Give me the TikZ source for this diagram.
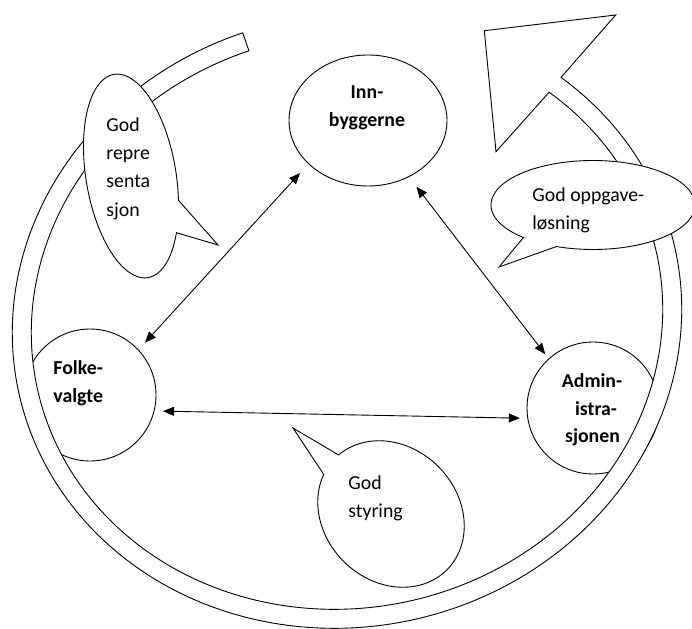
\documentclass[tikz,border=0pt]{standalone}
\usepackage{fontspec}
\setmainfont{Carlito}
\usetikzlibrary{arrows.meta,shapes.geometric}
\newcommand\lblsize{\fontsize{19.8}{28}\selectfont}
% #1 cx #2 cy #3 rx #4 ry #5 rotation #6 end angle (ta+360) #7 start angle (tb) #8 tip coordinate
\newcommand\speechbub[8]{%
  \draw[bubst] plot[domain=#7:#6,samples=160]
    ({#1+#3*cos(\x)*cos(#5)+#4*sin(\x)*sin(#5)},{#2-#3*cos(\x)*sin(#5)+#4*sin(\x)*cos(#5)})
    -- (#8) -- cycle;}
\begin{document}
\begin{tikzpicture}[x=1pt,y=-1pt,line width=0.9pt,
  circ/.style={ellipse,draw,fill=white,inner sep=0pt,outer sep=0pt},
  bubst/.style={draw,fill=white},
  ringst/.style={draw,fill=white},
  arr/.style={{Triangle[length=11pt,width=9pt]}-{Triangle[length=11pt,width=9pt]}},
  tb/.style={font=\lblsize\bfseries,inner sep=0pt},
  tr/.style={font=\lblsize,inner sep=0pt}]
\useasboundingbox (0,0) rectangle (692,628);
% the three actors
\node[circ,minimum width=158pt,minimum height=131pt] (inn) at (368,120.5) {};
\node[circ,minimum width=132pt,minimum height=132pt] (folk) at (90,395) {};
\node[circ,minimum width=132pt,minimum height=132pt] (adm) at (593,408) {};
% circular arrow band
\coordinate (ahA) at (615.7,15);
\coordinate (ahB) at (484.3,30.7);
\coordinate (ahC) at (496,151.7);
\draw[ringst] plot[domain=-262.8:39.3,samples=220]
   ({347+336*cos(\x)*0.9781-306*sin(\x)*0.2079},{321-336*cos(\x)*0.2079-306*sin(\x)*0.9781})
   -- (ahA) -- (ahB) -- (ahC)
   -- plot[domain=-39.3:262.8,samples=220]
   ({347+317*cos(\x)*0.9781+287*sin(\x)*0.2079},{321-317*cos(\x)*0.2079+287*sin(\x)*0.9781})
   -- cycle;
% connectors
\draw[arr,shorten <=12.7pt,shorten >=10pt] (inn.216) -- (folk.43);
\draw[arr,shorten <=12.7pt,shorten >=6pt] (inn.306) -- (adm.132);
\draw[arr,shorten <=9pt,shorten >=8pt] (folk.346) -- (adm.189);
% speech bubbles
\coordinate (tipA) at (218,245);
\speechbub{131}{176}{45}{103}{9.5}{378}{38}{tipA}
\coordinate (tipB) at (499,267);
\speechbub{593}{205}{102}{44.5}{0}{471}{133}{tipB}
\coordinate (tipC) at (293,428);
\speechbub{391}{514}{67}{79}{45}{613}{274}{tipC}
% texts
\node[tb,anchor=base] (tinn1) at (367,99) {Inn-};
\node[tb,anchor=base] (tinn2) at (367,127) {byggerne};
\node[tb,anchor=base west] (tfolk1) at (53,374) {Folke-};
\node[tb,anchor=base west] (tfolk2) at (53,402) {valgte};
\node[tb,anchor=base] (tadm1) at (592,387) {Admin-};
\node[tb,anchor=base] (tadm2) at (596,415) {istra-};
\node[tb,anchor=base] (tadm3) at (592.5,442) {sjonen};
\node[tr,anchor=base west] (tba1) at (106,132) {God};
\node[tr,anchor=base west] (tba2) at (106,160) {repre};
\node[tr,anchor=base west] (tba3) at (106,188) {senta};
\node[tr,anchor=base west] (tba4) at (106,216) {sjon};
\node[tr,anchor=base west] (tbb1) at (532,201) {God oppgave-};
\node[tr,anchor=base west] (tbb2) at (532,229) {løsning};
\node[tr,anchor=base west] (tbc1) at (348,489) {God};
\node[tr,anchor=base west] (tbc2) at (348,517) {styring};
\end{tikzpicture}
\end{document}
